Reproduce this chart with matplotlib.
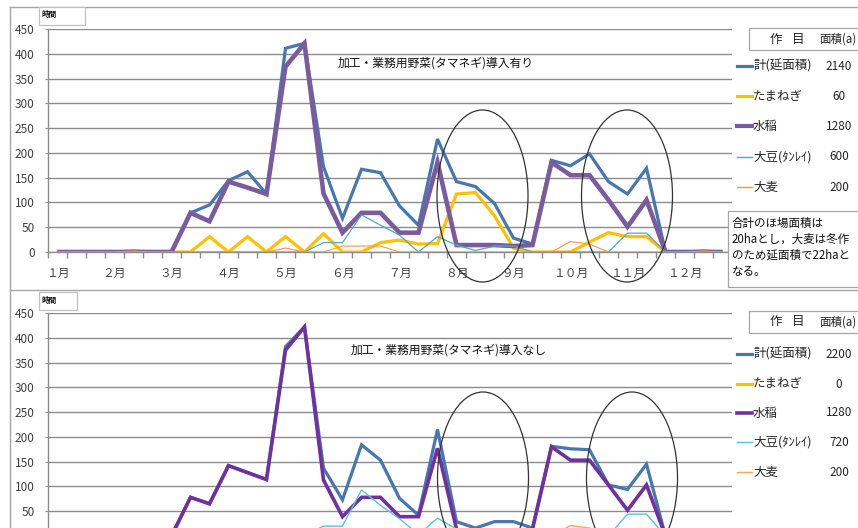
import matplotlib
matplotlib.use("Agg")
import matplotlib.pyplot as plt
from matplotlib.patches import Ellipse, Rectangle
from matplotlib.lines import Line2D

plt.rcParams['font.family'] = ['Noto Sans CJK JP', 'DejaVu Sans']

# ---- data: working hours per ten-day period (上・中・下旬), 36 periods ----
month_names = ['１月', '２月', '３月', '４月', '５月', '６月',
               '７月', '８月', '９月', '１０月', '１１月', '１２月']

# with onion introduced
total_with = [0, 0, 0, 0, 2, 0, 0, 79, 95, 144, 162, 117,
              411, 421, 172, 68, 167, 160, 93, 54, 228, 142, 132, 98,
              28, 16, 185, 174, 198, 142, 117, 169, 0, 0, 2, 0]
onion_with = [0, 0, 0, 0, 0, 0, 0, 0, 31, 0, 31, 0,
              31, 0, 37, 0, 0, 19, 24, 16, 17, 117, 120, 73,
              8, 0, 0, 0, 20, 39, 31, 31, 0, 0, 0, 0]
rice_with = [0, 0, 0, 0, 0, 0, 0, 79, 62, 142, 130, 117,
             374, 421, 118, 39, 79, 79, 39, 39, 181, 14, 14, 14,
             12, 14, 181, 155, 155, 105, 51, 105, 0, 0, 0, 0]
soy_with = [0, 0, 0, 0, 0, 0, 0, 0, 0, 0, 0, 0,
            0, 0, 19, 19, 75, 54, 34, 0, 31, 14, 3, 12,
            12, 0, 0, 0, 0, 0, 38, 38, 0, 0, 0, 0]
barley_with = [0, 0, 0, 0, 2, 0, 0, 0, 0, 0, 0, 0,
               8, 0, 0, 12, 12, 12, 0, 0, 0, 0, 0, 0,
               0, 0, 0, 21, 16, 0, 0, 0, 0, 0, 2, 0]

# without onion
total_without = [0, 0, 0, 0, 2, 0, 0, 78, 65, 142, 128, 114,
                 382, 422, 137, 73, 184, 153, 76, 42, 215, 29, 16, 29,
                 29, 16, 181, 176, 174, 103, 94, 145, 0, 0, 2, 0]
onion_without = [0] * 36
rice_without = [0, 0, 0, 0, 0, 0, 0, 78, 65, 142, 128, 114,
                375, 422, 113, 39, 78, 78, 39, 39, 177, 14, 14, 14,
                12, 14, 180, 153, 153, 103, 52, 103, 0, 0, 0, 0]
soy_without = [0, 0, 0, 0, 0, 0, 0, 0, 0, 0, 0, 0,
               0, 0, 20, 20, 93, 62, 35, 3, 36, 14, 3, 12,
               12, 0, 0, 0, 0, 0, 44, 44, 0, 0, 0, 0]
barley_without = [0, 0, 0, 0, 2, 0, 0, 0, 0, 0, 0, 0,
                  8, 0, 0, 12, 12, 12, 0, 0, 0, 0, 0, 0,
                  0, 0, 0, 21, 16, 0, 0, 0, 0, 0, 2, 0]

crop_names = ['計(延面積)', 'たまねぎ', '水稲', '大豆(ﾀﾝﾚｲ)', '大麦']
areas_with = ['2140', '60', '1280', '600', '200']
areas_without = ['2200', '0', '1280', '720', '200']

title_with = '加工・業務用野菜(タマネギ)導入有り'
title_without = '加工・業務用野菜(タマネギ)導入なし'
note_lines = ['合計のほ場面積は', '20haとし，大麦は冬作', 'のため延面積で22haと', 'なる。']

# ---- layout helpers (pixel -> figure fraction) ----
W, H = 858, 528
fig = plt.figure(figsize=(W / 100, H / 100), dpi=100)
fig.patch.set_facecolor('white')


def fx(x):
    return x / W


def fy(y):
    return 1 - y / H


GRID = '#8c8c8c'
FRAME = '#a6a6a6'
TXT = '#262626'


def draw_panel(ax, series, styles, show_month_labels=True, show_zero=True):
    n = len(series[0])
    xs = list(range(n))
    ax.set_xlim(-0.5, n - 0.5)
    ax.set_ylim(0, 450)
    yt = list(range(0, 451, 50))
    ax.set_yticks(yt)
    ax.set_yticklabels([str(v) if (show_zero or v > 0) else '' for v in yt])
    ax.yaxis.grid(True, color=GRID, lw=1.0)
    ax.set_axisbelow(True)
    for s in ['top', 'right']:
        ax.spines[s].set_visible(False)
    for s in ['left', 'bottom']:
        ax.spines[s].set_color(GRID)
        ax.spines[s].set_linewidth(1.0)
    ax.tick_params(axis='y', length=2.5, color=GRID, pad=7,
                   labelsize=8.5, labelcolor='#404040')
    # month labels at the first ten-day period of each month
    ax.set_xticks(xs[::3])
    if show_month_labels:
        ax.set_xticklabels(month_names, fontsize=8.5, color='#404040')
    else:
        ax.set_xticklabels([''] * len(month_names))
    ax.tick_params(axis='x', which='major', length=0, pad=11)
    ax.set_xticks([i - 0.5 for i in range(n + 1)], minor=True)
    ax.tick_params(axis='x', which='minor', length=4, color=GRID, width=1.0)
    for vals, (color, lw, z) in zip(series, styles):
        ax.plot(xs, vals, color=color, lw=lw, zorder=z,
                solid_joinstyle='miter', solid_capstyle='butt')


def frame_line(x0, y0, x1, y1, color=FRAME, lw=1.0):
    fig.add_artist(Line2D([fx(x0), fx(x1)], [fy(y0), fy(y1)],
                          transform=fig.transFigure, color=color, lw=lw, zorder=1))


def box(x0, y0, x1, y1, ec='#a6a6a6', z=20):
    fig.add_artist(Rectangle((fx(x0), fy(y1)), (x1 - x0) / W, (y1 - y0) / H,
                             transform=fig.transFigure, fc='white', ec=ec,
                             lw=0.9, zorder=z))


def legend(y_header, rows, areas, colors, lws):
    box(749, y_header - 11, 870, y_header + 11)
    fig.text(fx(770), fy(y_header), '作', fontsize=9, color=TXT,
             va='center', ha='left', zorder=21)
    fig.text(fx(792), fy(y_header), '目', fontsize=9, color=TXT,
             va='center', ha='left', zorder=21)
    fig.text(fx(819), fy(y_header), '面積(a)', fontsize=8.3, color=TXT,
             va='center', ha='left', zorder=21)
    for y, name, area, c, lw in zip(rows, crop_names, areas, colors, lws):
        fig.add_artist(Line2D([fx(737), fx(752)], [fy(y), fy(y)],
                              transform=fig.transFigure, color=c, lw=lw, zorder=21))
        fig.text(fx(753), fy(y), name, fontsize=9, color=TXT,
                 va='center', ha='left', zorder=21)
        fig.text(fx(839), fy(y), area, fontsize=8.5, color=TXT,
                 va='center', ha='center', zorder=21)


def hour_tag(x0, y0, x1, y1):
    box(x0, y0, x1, y1, ec='#c0c0c0', z=5)
    fig.text(fx(x0 + 3), fy((y0 + y1) / 2 - 1), '時間', fontsize=5.5,
             fontweight='bold', color='#111111', va='center', ha='left', zorder=6)


def ring(cx, cy, w=91, h=172):
    fig.add_artist(Ellipse((fx(cx), fy(cy)), w / W, h / H,
                           transform=fig.transFigure, fill=False,
                           ec='#333333', lw=0.9, zorder=15))


# ---- panel frames ----
frame_line(10, 7, 858, 7)
frame_line(10, 7, 10, 290)
frame_line(10, 290, 858, 290)
frame_line(10, 290, 10, 528)

# ---- upper panel: with onion ----
ax1 = fig.add_axes([fx(48), fy(252), 684 / W, 223 / H])
styles1 = [('#4677B0', 2.3, 3), ('#FFC000', 2.3, 4), ('#7A5C9E', 3.3, 5),
           ('#4BACC6', 0.9, 6), ('#F79646', 0.8, 7)]
draw_panel(ax1, [total_with, onion_with, rice_with, soy_with, barley_with], styles1)
fig.text(fx(436), fy(63), title_with, fontsize=8.5, color='#111111',
         ha='center', va='center')
hour_tag(39, 7, 85, 25)
ring(482.5, 196)
ring(627, 196)
legend(39, [66, 96, 126, 157, 187], areas_with,
       [s[0] for s in styles1], [2.3, 2.3, 3.0, 1.0, 1.0])

# note box
box(728, 211, 870, 287, ec='#a6a6a6', z=20)
for k, line in enumerate(note_lines):
    fig.text(fx(732), fy(223 + 16 * k), line, fontsize=8.3, color='#111111',
             ha='left', va='center', zorder=21)

# ---- lower panel: without onion (its baseline lies just below the sheet) ----
ax2 = fig.add_axes([fx(48), fy(536), 684 / W, 223 / H])
styles2 = [('#4677B0', 2.3, 3), ('#FFC000', 2.3, 4), ('#7030A0', 2.6, 5),
           ('#5BC0E0', 1.0, 6), ('#F5A35A', 1.0, 7)]
draw_panel(ax2, [total_without, onion_without, rice_without, soy_without,
                 barley_without], styles2, show_month_labels=False, show_zero=False)
fig.text(fx(449), fy(350), title_without, fontsize=8.5, color='#111111',
         ha='center', va='center')
hour_tag(39, 292, 77, 310)
ring(483, 478)
ring(632, 478)
legend(322, [354, 384, 413, 442, 472], areas_without,
       [s[0] for s in styles2], [2.3, 2.3, 2.6, 1.0, 1.0])

fig.savefig('out.png', dpi=100, facecolor='white')
